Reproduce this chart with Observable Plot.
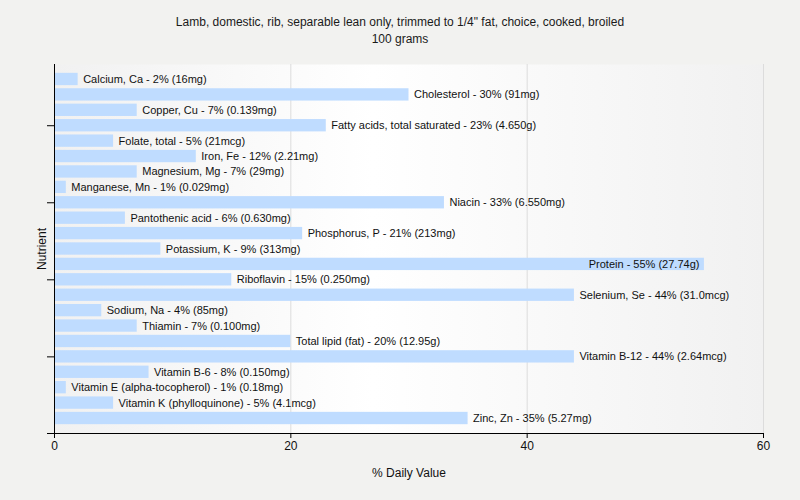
<!DOCTYPE html>
<html>
<head>
<meta charset="utf-8">
<script src="https://cdn.jsdelivr.net/npm/d3@7"></script>
<script src="https://cdn.jsdelivr.net/npm/@observablehq/plot@0.6"></script>
<style>
  html, body { margin: 0; padding: 0; background: #f2f2f0; }
  body { width: 800px; height: 500px; overflow: hidden; font-family: "Liberation Sans", Arial, sans-serif; }
  #title { height: 55px; box-sizing: border-box; padding-top: 14px; text-align: center; font-size: 12px; line-height: 17px; color: #1a1a1a; }
  svg { display: block; }
</style>
</head>
<body>
<div id="title">Lamb, domestic, rib, separable lean only, trimmed to 1/4" fat, choice, cooked, broiled<br>100 grams</div>
<div id="chart"></div>
<script>
const nutrients = ["Calcium, Ca", "Cholesterol", "Copper, Cu", "Fatty acids, total saturated", "Folate, total", "Iron, Fe", "Magnesium, Mg", "Manganese, Mn", "Niacin", "Pantothenic acid", "Phosphorus, P", "Potassium, K", "Protein", "Riboflavin", "Selenium, Se", "Sodium, Na", "Thiamin", "Total lipid (fat)", "Vitamin B-12", "Vitamin B-6", "Vitamin E (alpha-tocopherol)", "Vitamin K (phylloquinone)", "Zinc, Zn"];
const percents = [2, 30, 7, 23, 5, 12, 7, 1, 33, 6, 21, 9, 55, 15, 44, 4, 7, 20, 44, 8, 1, 5, 35];
const amounts = ["16mg", "91mg", "0.139mg", "4.650g", "21mcg", "2.21mg", "29mg", "0.029mg", "6.550mg", "0.630mg", "213mg", "313mg", "27.74g", "0.250mg", "31.0mcg", "85mg", "0.100mg", "12.95g", "2.64mcg", "0.150mg", "0.18mg", "4.1mcg", "5.27mg"];
const xTicks = [0, 20, 40, 60];
const yTickNutrients = ["Fatty acids, total saturated", "Niacin", "Riboflavin", "Vitamin B-12"];

const data = nutrients.map((n, i) => ({
  nutrient: n,
  value: percents[i],
  label: `${n} - ${percents[i]}% (${amounts[i]})`
}));

const chart = Plot.plot({
  width: 800,
  height: 445,
  marginTop: 9,
  marginBottom: 67,
  marginLeft: 54,
  marginRight: 37,
  style: { fontFamily: "Liberation Sans, Arial, sans-serif", fontSize: "12px", background: "transparent", color: "#1a1a1a" },
  x: { domain: [0, 60], ticks: xTicks },
  y: { domain: nutrients, paddingInner: 0.2, paddingOuter: 0.573, align: 0.5, round: false },
  marks: [
    Plot.frame({ fill: "url(#plotbg)", stroke: null }),
    Plot.gridX(xTicks.filter(d => d > 0), { stroke: "#dcdcdc", strokeOpacity: 1 }),
    Plot.barX(data, { y: "nutrient", x: "value", fill: "#bfdcff" }),
    Plot.text(data.filter(d => d.value <= 50), { y: "nutrient", x: "value", text: "label", textAnchor: "start", dx: 5, fontSize: 11, fill: "#111" }),
    Plot.text(data.filter(d => d.value > 50), { y: "nutrient", x: "value", text: "label", textAnchor: "end", dx: -5, fontSize: 11, fill: "#111" }),
    Plot.ruleX([0], { stroke: "#000" }),
    Plot.frame({ anchor: "bottom", stroke: "#000", dx: -7 }),
    Plot.frame({ anchor: "bottom", stroke: "#000" }),
    Plot.axisX({ ticks: xTicks, tickSize: 5, tickPadding: 3, label: null, fontSize: 12, stroke: "#000", fill: "#111" }),
    Plot.axisY({ ticks: yTickNutrients, tickSize: 7, tickFormat: () => "", label: null, stroke: "#000" }),
    Plot.text(["% Daily Value"], { frameAnchor: "bottom", dy: 43, fontSize: 12, fill: "#111" }),
    Plot.text(["Nutrient"], { frameAnchor: "left", textAnchor: "middle", dx: -12, rotate: -90, fontSize: 12, fill: "#111" })
  ]
});

const defs = d3.select(chart).insert("defs", ":first-child");
const grad = defs.append("linearGradient").attr("id", "plotbg").attr("x1", "0").attr("x2", "1").attr("y1", "0").attr("y2", "0");
grad.append("stop").attr("offset", "0").attr("stop-color", "#f1f1f1");
grad.append("stop").attr("offset", "0.45").attr("stop-color", "#ffffff");
grad.append("stop").attr("offset", "1").attr("stop-color", "#f1f1f1");

document.getElementById("chart").appendChild(chart);
</script>
</body>
</html>
